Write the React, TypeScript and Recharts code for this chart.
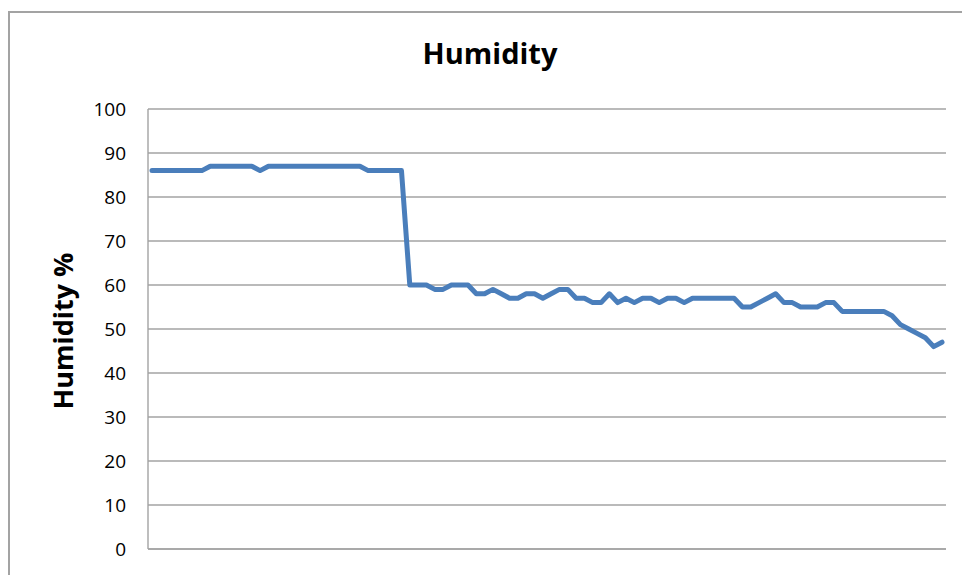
import React from "react";
import { LineChart, Line, XAxis, YAxis, CartesianGrid } from "recharts";

const readingNumbers: string[] = [
  "1","2","3","4","5","6","7","8","9","10","11","12","13","14","15","16",
  "17","18","19","20","21","22","23","24","25","26","27","28","29","30","31","32",
  "33","34","35","36","37","38","39","40","41","42","43","44","45","46","47","48",
  "49","50","51","52","53","54","55","56","57","58","59","60","61","62","63","64",
  "65","66","67","68","69","70","71","72","73","74","75","76","77","78","79","80",
  "81","82","83","84","85","86","87","88","89","90","91","92","93","94","95","96",
];

const humidityValues: number[] = [
  86, 86, 86, 86, 86, 86, 86, 87, 87, 87, 87, 87, 87, 86, 87, 87,
  87, 87, 87, 87, 87, 87, 87, 87, 87, 87, 86, 86, 86, 86, 86, 60,
  60, 60, 59, 59, 60, 60, 60, 58, 58, 59, 58, 57, 57, 58, 58, 57,
  58, 59, 59, 57, 57, 56, 56, 58, 56, 57, 56, 57, 57, 56, 57, 57,
  56, 57, 57, 57, 57, 57, 57, 55, 55, 56, 57, 58, 56, 56, 55, 55,
  55, 56, 56, 54, 54, 54, 54, 54, 54, 53, 51, 50, 49, 48, 46, 47,
];

const yTicks: number[] = [0, 10, 20, 30, 40, 50, 60, 70, 80, 90, 100];

const chartTitle = "Humidity";
const yAxisTitle = "Humidity %";

const data = readingNumbers.map((r, i) => ({ reading: r, humidity: humidityValues[i] }));

const FONT = "'Open Sans', 'DejaVu Sans', sans-serif";

const YLabel = () => (
  <text
    x={65}
    y={323}
    transform="rotate(-90 65 323)"
    textAnchor="middle"
    fontFamily={FONT}
    fontWeight={700}
    fontSize={27}
    fill="#000"
  >
    {yAxisTitle}
  </text>
);

export default function App() {
  return (
    <div style={{ position: "relative", width: 962, height: 567, overflow: "hidden", background: "#fff" }}>
      <div
        style={{
          position: "absolute",
          left: 0,
          top: 3,
          width: 1000,
          height: 700,
          border: "2px solid #a3a3a3",
          boxSizing: "border-box",
        }}
      />
      <svg style={{ position: "absolute", left: 0, top: 0 }} width={962} height={80}>
        <text x={482} y={55.5} textAnchor="middle" fontFamily={FONT} fontWeight={700} fontSize={29} fill="#000">
          {chartTitle}
        </text>
      </svg>
      <div style={{ position: "absolute", left: 0, top: 0 }}>
        <LineChart width={962} height={567} data={data} margin={{ top: 101, right: 24, bottom: 0, left: 0 }}>
          <CartesianGrid vertical={false} horizontal={true} stroke="#a3a3a3" strokeWidth={1.4} />
          <XAxis
            dataKey="reading"
            type="category"
            height={26}
            tick={false}
            tickLine={false}
            axisLine={{ stroke: "#a3a3a3", strokeWidth: 1.4 }}
            padding={{ left: 4, right: 4 }}
          />
          <YAxis
            type="number"
            domain={[0, 100]}
            ticks={yTicks}
            interval={0}
            width={140}
            tickLine={false}
            tickSize={0}
            tickMargin={22}
            axisLine={{ stroke: "#a3a3a3", strokeWidth: 1.4 }}
            tick={{ fill: "#000", fontSize: 19, fontFamily: FONT }}
            label={<YLabel />}
          />
          <Line
            type="linear"
            dataKey="humidity"
            stroke="#4A7EBB"
            strokeWidth={5}
            strokeLinejoin="round"
            strokeLinecap="round"
            dot={false}
            activeDot={false}
            isAnimationActive={false}
          />
        </LineChart>
      </div>
    </div>
  );
}
